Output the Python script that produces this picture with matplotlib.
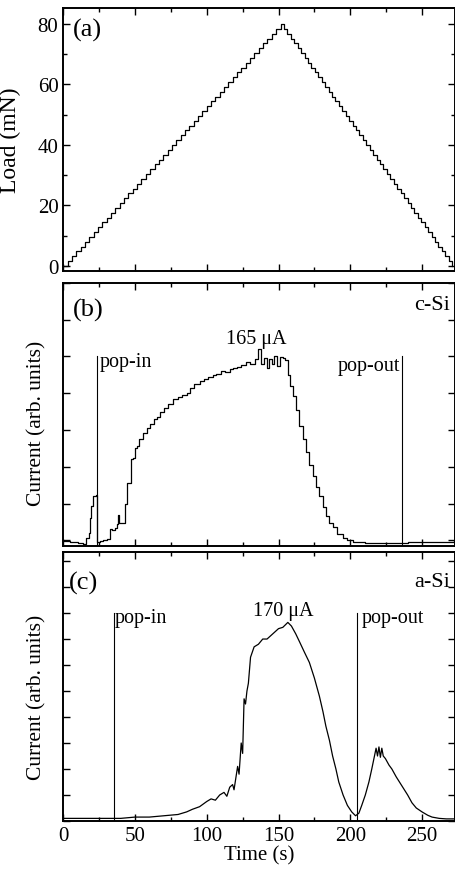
import matplotlib
matplotlib.use("Agg")
import matplotlib.pyplot as plt
from matplotlib.ticker import MultipleLocator, NullFormatter

plt.rcParams['font.family'] = ['Liberation Serif', 'DejaVu Serif']

# (a) load staircase: step times (s) and load levels (mN)
load_t = [0, 3.03, 6.06, 9.08, 12.11, 15.14, 18.17, 21.20, 24.22, 27.25, 30.28,
          33.31, 36.34, 39.36, 42.39, 45.42, 48.45, 51.48, 54.50, 57.53, 60.56,
          63.59, 66.62, 69.64, 72.67, 75.70, 78.73, 81.76, 84.78, 87.81, 90.84,
          93.87, 96.90, 99.92, 102.95, 105.98, 109.01, 112.04, 115.06, 118.09,
          121.12, 124.15, 127.18, 130.20, 133.23, 136.26, 139.29, 142.32, 145.34,
          148.37, 151.40,
          153.79, 156.18, 158.58, 160.97, 163.36, 165.75, 168.14, 170.54, 172.93,
          175.32, 177.71, 180.10, 182.50, 184.89, 187.28, 189.67, 192.06, 194.46,
          196.85, 199.24, 201.63, 204.02, 206.42, 208.81, 211.20, 213.59, 215.98,
          218.38, 220.77, 223.16, 225.55, 227.94, 230.34, 232.73, 235.12, 237.51,
          239.90, 242.30, 244.69, 247.08, 249.47, 251.86, 254.26, 256.65, 259.04,
          261.43, 263.82, 266.22, 268.61, 271.00]
load_up = [0, 1.6, 3.2, 4.8, 6.4, 8.0, 9.6, 11.2, 12.8, 14.4, 16.0, 17.6, 19.2,
           20.8, 22.4, 24.0, 25.6, 27.2, 28.8, 30.4, 32.0, 33.6, 35.2, 36.8, 38.4,
           40.0, 41.6, 43.2, 44.8, 46.4, 48.0, 49.6, 51.2, 52.8, 54.4, 56.0, 57.6,
           59.2, 60.8, 62.4, 64.0, 65.6, 67.2, 68.8, 70.4, 72.0, 73.6, 75.2, 76.8,
           78.4, 80.0]
load_mn = load_up + load_up[-2::-1]

# (b) c-Si current
csi_t = [0, 5, 10, 14, 16, 17.6, 18.5, 19.2, 21, 22.8, 23.2, 25.7, 28, 30.3, 32.6,
         34, 36, 37.5, 38.4, 39, 41.9, 43, 44.2, 46.5, 47.5, 48.8, 50, 51.2, 53,
         55.8, 58, 60.4, 63, 65, 67.4, 70, 73, 76.6, 80, 83, 85.9, 88, 91, 95.1,
         98, 101, 104, 106.7, 110, 113, 116, 118.3, 121, 124, 127.6, 130, 133.3,
         135.6, 137.9, 140, 142, 143.7, 145.5, 147, 149, 151, 153, 154.5, 156.5,
         158, 160, 162, 164.6, 167, 169.2, 171.5, 173.8, 176, 178.5, 181, 183,
         185.5, 187.7, 191, 194.6, 198, 201.6, 210, 224.7, 240, 255, 272]
csi_i = [-0.02, -0.05, -0.08, -0.1, 0.05, 0.2, 0.6, 0.93, 1.2, 1.22, -0.05, -0.02,
         0.0, 0.04, 0.3, 0.28, 0.33, 0.45, 0.7, 0.47, 0.47, 1.0, 1.57, 1.57, 2.2,
         2.25, 2.5, 2.57, 2.75, 2.93, 3.05, 3.16, 3.3, 3.35, 3.48, 3.6, 3.72, 3.84,
         3.9, 3.95, 4.02, 4.15, 4.25, 4.34, 4.4, 4.45, 4.5, 4.52, 4.6, 4.58, 4.66,
         4.7, 4.72, 4.78, 4.84, 4.8, 4.92, 5.2, 4.8, 4.95, 4.7, 4.93, 4.8, 5.0,
         4.75, 4.98, 4.95, 4.9, 4.5, 4.2, 3.93, 3.55, 3.11, 2.75, 2.39, 2.05, 1.75,
         1.45, 1.2, 0.9, 0.66, 0.48, 0.35, 0.18, 0.07, 0.0, -0.06, -0.07, -0.07,
         -0.06, -0.05, -0.03]

# (c) a-Si current
asi_t = [0, 10, 20, 30, 40, 50, 60, 70, 80, 86, 90, 95, 100, 103, 106, 109, 112,
         114, 116, 118, 119, 121.5, 122.5, 124, 125, 126, 127, 128, 129, 130.5,
         133, 136, 139, 142, 146, 150, 153, 156.5, 159, 162, 164.6, 168, 171.5,
         175, 178.5, 181, 183, 185.5, 187.7, 190, 192, 195, 198, 201, 203.7, 206,
         208, 210.5, 213, 215, 216.5, 218, 219, 220, 221, 222, 223, 224.5, 227,
         229, 232, 236, 240, 243, 246, 250, 254, 257, 262, 267, 272]
asi_i = [0.1, 0.1, 0.1, 0.1, 0.1, 0.15, 0.15, 0.2, 0.25, 0.35, 0.45, 0.55, 0.75,
         0.85, 0.8, 1.0, 1.1, 0.95, 1.3, 1.4, 1.2, 2.1, 1.8, 3.0, 2.6, 4.7, 4.5,
         5.0, 5.3, 6.3, 6.7, 6.8, 7.0, 7.0, 7.2, 7.4, 7.45, 7.64, 7.5, 7.2, 6.9,
         6.5, 6.1, 5.5, 4.8, 4.2, 3.65, 3.1, 2.5, 2.0, 1.5, 1.0, 0.6, 0.35, 0.2,
         0.3, 0.6, 1.0, 1.5, 2.0, 2.4, 2.8, 2.5, 2.85, 2.45, 2.8, 2.5, 2.4, 2.15,
         2.0, 1.7, 1.35, 1.0, 0.7, 0.5, 0.35, 0.22, 0.15, 0.1, 0.08, 0.08]

# pop-in / pop-out times and line heights
b_pop_t = [23.4, 236.4]
b_pop_h = 5.02
c_pop_t = [35, 205]
c_pop_h = 8.0

fig = plt.figure(figsize=(4.56, 8.70), dpi=100)
left, width = 0.1388, 0.859
ax1 = fig.add_axes([left, 0.6874, width, 0.3023])
ax2 = fig.add_axes([left, 0.3713, width, 0.3023])
ax3 = fig.add_axes([left, 0.0552, width, 0.3092])

for ax in (ax1, ax2, ax3):
    ax.set_xlim(0, 273)
    ax.xaxis.set_major_locator(MultipleLocator(50))
    ax.xaxis.set_minor_locator(MultipleLocator(25))
    ax.tick_params(which='both', direction='in', top=True, right=True,
                   labelsize=15, width=1.0)
    ax.tick_params(which='major', length=5)
    ax.tick_params(which='minor', length=3)
    for s in ax.spines.values():
        s.set_linewidth(1.4)

# (a)
ax1.plot(load_t, load_mn, drawstyle='steps-post', color='black', lw=0.9)
ax1.set_ylim(-1.65, 85.3)
ax1.yaxis.set_major_locator(MultipleLocator(20))
ax1.yaxis.set_minor_locator(MultipleLocator(10))
ax1.xaxis.set_major_formatter(NullFormatter())
ax1.set_ylabel('Load (mN)', fontsize=17)
ax1.yaxis.set_label_coords(-0.108, 0.5)
ax1.text(0.024, 0.92, '(a)', transform=ax1.transAxes, fontsize=19, va='center')

# (b)
ax2.plot(csi_t, csi_i, drawstyle='steps-post', color='black', lw=0.9)
for t in b_pop_t:
    ax2.plot([t, t], [-0.155, b_pop_h], color='black', lw=0.8)
ax2.set_ylim(-0.155, 7.0)
ax2.yaxis.set_major_locator(MultipleLocator(1))
ax2.yaxis.set_major_formatter(NullFormatter())
ax2.xaxis.set_major_formatter(NullFormatter())
ax2.set_ylabel('Current (arb. units)', fontsize=15.5)
ax2.yaxis.set_label_coords(-0.042, 0.47)
ax2.text(0.024, 0.90, '(b)', transform=ax2.transAxes, fontsize=19, va='center')
ax2.text(0.987, 0.92, 'c-Si', transform=ax2.transAxes, fontsize=16,
         va='center', ha='right')
ax2.text(25.1, 4.85, 'pop-in', fontsize=14.5, va='center', ha='left')
ax2.text(234.5, 4.75, 'pop-out', fontsize=14.5, va='center', ha='right')
ax2.text(134.8, 5.48, '165 μA', fontsize=14.5, va='center', ha='center')

# (c)
ax3.plot(asi_t, asi_i, color='black', lw=0.9)
for t in c_pop_t:
    ax3.plot([t, t], [0, c_pop_h], color='black', lw=0.8)
ax3.set_ylim(0, 10.35)
ax3.yaxis.set_major_locator(MultipleLocator(1))
ax3.yaxis.set_major_formatter(NullFormatter())
ax3.set_xlabel('Time (s)', fontsize=15, labelpad=0)
ax3.set_ylabel('Current (arb. units)', fontsize=15.5)
ax3.yaxis.set_label_coords(-0.042, 0.465)
ax3.text(0.013, 0.888, '(c)', transform=ax3.transAxes, fontsize=19, va='center')
ax3.text(0.987, 0.892, 'a-Si', transform=ax3.transAxes, fontsize=16,
         va='center', ha='right')
ax3.text(36, 7.83, 'pop-in', fontsize=14.5, va='center', ha='left')
ax3.text(208, 7.83, 'pop-out', fontsize=14.5, va='center', ha='left')
ax3.text(153.3, 8.09, '170 μA', fontsize=14.5, va='center', ha='center')

fig.savefig('out.png', dpi=100)
